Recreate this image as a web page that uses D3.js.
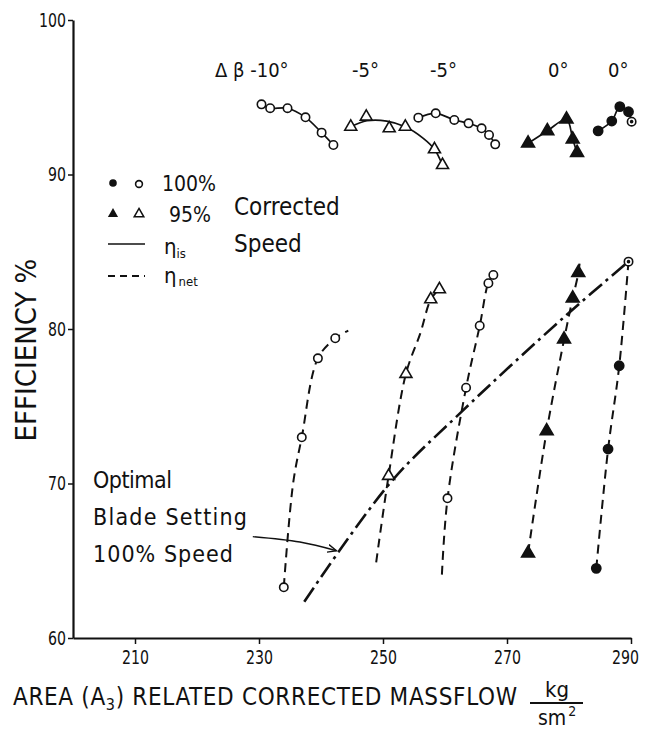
<!DOCTYPE html>
<html>
<head>
<meta charset="utf-8">
<script src="https://cdn.jsdelivr.net/npm/d3@7/dist/d3.min.js"></script>
<style>
  body { margin: 0; background: #fff; }
  text { font-family: "DejaVu Sans Condensed", "DejaVu Sans", sans-serif; fill: #111; }
</style>
</head>
<body>
<svg id="chart" width="646" height="730"></svg>
<script>

/////
//
// Data
//
/////

var xTicks = [210, 230, 250, 270, 290],
    yTicks = [60, 70, 80, 90, 100];

// eta_is curves (top, solid)
var isM10_x = [230.4, 231.8, 234.6, 237.5, 240.1, 242.0],
    isM10_y = [94.54, 94.29, 94.29, 93.70, 92.71, 91.91];

var isM5t_x = [244.8, 247.3, 251.0, 253.6, 258.3, 259.6],
    isM5t_y = [93.09, 93.74, 92.99, 93.09, 91.63, 90.61];
// fitted line through the 95% -5 deg triangles
var isM5tFit_x = [244.8, 247.4, 250.6, 253.6, 256.5, 258.3, 259.6],
    isM5tFit_y = [93.09, 93.48, 93.46, 93.09, 92.34, 91.63, 90.61];

var isM5c_x = [255.7, 258.5, 261.5, 263.8, 265.9, 267.1, 268.1],
    isM5c_y = [93.68, 93.96, 93.53, 93.31, 92.99, 92.56, 91.95];

var is0t_x = [273.4, 276.5, 279.6, 280.6, 281.3],
    is0t_y = [92.02, 92.82, 93.57, 92.28, 91.41];

var is0c_x = [284.7, 286.9, 288.2, 289.6, 290.1],
    is0c_y = [92.82, 93.46, 94.39, 94.06, 93.42];

// eta_net curves (bottom, dashed): markers and line
var netA_x = [234.0, 236.9, 239.5, 242.3],
    netA_y = [63.28, 72.99, 78.10, 79.40],
    netAline_x = [234.0, 235.5, 236.9, 239.5, 242.3, 244.4],
    netAline_y = [63.3, 70.0, 73.0, 78.1, 79.4, 79.9];

var netB_x = [250.9, 253.7, 257.7, 259.1],
    netB_y = [70.49, 77.09, 81.92, 82.57],
    netBline_x = [248.9, 250.9, 253.7, 256.0, 257.7, 259.1],
    netBline_y = [64.9, 70.5, 77.1, 79.7, 81.9, 82.6];

var netC_x = [260.4, 263.4, 265.6, 267.0, 267.8],
    netC_y = [69.04, 76.20, 80.21, 82.96, 83.50],
    netCline_x = [259.5, 260.4, 263.4, 265.6, 267.0, 267.8],
    netCline_y = [64.1, 69.0, 76.2, 80.2, 83.0, 83.5];

var netD_x = [273.4, 276.4, 279.2, 280.6, 281.5],
    netD_y = [65.48, 73.40, 79.33, 81.99, 83.64],
    netDline_x = [273.4, 276.4, 279.2, 280.6, 281.5, 281.8],
    netDline_y = [65.5, 73.4, 79.3, 82.0, 83.6, 84.6];

var netE_x = [284.4, 286.3, 288.1],
    netE_y = [64.51, 72.23, 77.62],
    netEline_x = [284.4, 286.3, 288.1, 289.6],
    netEline_y = [64.5, 72.2, 77.6, 84.4];

// optimal blade setting, 100% speed (dash-dot)
var opt_x = [237.3, 251.1, 262.4, 279.6, 289.6],
    opt_y = [62.35, 70.01, 74.54, 80.91, 84.36];

// points drawn as circle with a dot
var dotCirc_x = [290.1, 289.6],
    dotCirc_y = [93.42, 84.36];

// annotation leader line
var lead_x = [229.0, 236.6, 242.5],
    lead_y = [66.56, 66.21, 65.65];

var blades = ["\u0394 \u03b2 -10\u00b0", "-5\u00b0", "-5\u00b0", "0\u00b0", "0\u00b0"];

/////
//
// Chart
//
/////

var svg = d3.select("#chart");

var x = d3.scaleLinear().domain([200, 290]).range([73, 631]),
    y = d3.scaleLinear().domain([60, 100]).range([638, 20]);

var zip = function(a, b) { return a.map(function(v, i) { return [v, b[i]]; }); };

var line = d3.line()
    .x(function(d) { return x(d[0]); })
    .y(function(d) { return y(d[1]); })
    .curve(d3.curveCatmullRom.alpha(0.5));

// axes
var xAxis = svg.append("g")
    .attr("transform", "translate(0," + y(60) + ")")
    .call(d3.axisBottom(x).tickValues(xTicks).tickSize(6).tickPadding(6).tickSizeOuter(0));
var yAxis = svg.append("g")
    .attr("transform", "translate(" + x(200) + ",0)")
    .call(d3.axisLeft(y).tickValues(yTicks).tickSize(5).tickPadding(2).tickSizeOuter(0));

[xAxis, yAxis].forEach(function(a) {
  a.select(".domain").attr("stroke", "#111").attr("stroke-width", 2.2);
  a.selectAll(".tick line").attr("stroke", "#111").attr("stroke-width", 1.5);
  // the scanned digits are narrow, so squeeze them
  a.selectAll(".tick text")
      .attr("font-size", 20)
      .attr("font-family", "DejaVu Sans Condensed, DejaVu Sans, sans-serif")
      .attr("fill", "#111")
      .attr("lengthAdjust", "spacingAndGlyphs")
      .attr("textLength", function(d) { return String(d).length * 9; });
});
// last x label sits a little left of its tick in the scan
xAxis.selectAll(".tick text").filter(function(d) { return d === 290; }).attr("x", -6);

// solid eta_is lines
var solid = [zip(isM10_x, isM10_y), zip(isM5tFit_x, isM5tFit_y), zip(isM5c_x, isM5c_y),
             zip(is0t_x, is0t_y), zip(is0c_x, is0c_y)];
svg.append("g").selectAll("path")
    .data(solid)
  .enter().append("path")
    .attr("d", line)
    .attr("fill", "none")
    .attr("stroke", "#111")
    .attr("stroke-width", 1.7);

// dashed eta_net lines
var dashed = [zip(netAline_x, netAline_y), zip(netBline_x, netBline_y), zip(netCline_x, netCline_y),
              zip(netDline_x, netDline_y), zip(netEline_x, netEline_y)];
svg.append("g").selectAll("path")
    .data(dashed)
  .enter().append("path")
    .attr("d", line)
    .attr("fill", "none")
    .attr("stroke", "#111")
    .attr("stroke-width", 2)
    .attr("stroke-dasharray", "9,6");

// optimal line, dash-dot
svg.append("path")
    .datum(zip(opt_x, opt_y))
    .attr("d", line)
    .attr("fill", "none")
    .attr("stroke", "#111")
    .attr("stroke-width", 2.6)
    .attr("stroke-dasharray", "17,5,3,5");

// markers
var tri = d3.symbol().type(d3.symbolTriangle);

function circles(xs, ys, filled) {
  svg.append("g").selectAll("circle")
      .data(zip(xs, ys))
    .enter().append("circle")
      .attr("cx", function(d) { return x(d[0]); })
      .attr("cy", function(d) { return y(d[1]); })
      .attr("r", filled ? 4.6 : 4.2)
      .attr("fill", filled ? "#111" : "#fff")
      .attr("stroke", "#111")
      .attr("stroke-width", 1.6);
}

function triangles(xs, ys, filled) {
  svg.append("g").selectAll("path")
      .data(zip(xs, ys))
    .enter().append("path")
      .attr("d", tri.size(filled ? 72 : 62)())
      .attr("transform", function(d) { return "translate(" + x(d[0]) + "," + y(d[1]) + ")"; })
      .attr("fill", filled ? "#111" : "#fff")
      .attr("stroke", "#111")
      .attr("stroke-width", 1.6)
      .attr("stroke-linejoin", "miter");
}

circles(isM10_x, isM10_y, false);
triangles(isM5t_x, isM5t_y, false);
circles(isM5c_x, isM5c_y, false);
triangles(is0t_x, is0t_y, true);
circles(is0c_x.slice(0, 4), is0c_y.slice(0, 4), true);

circles(netA_x, netA_y, false);
triangles(netB_x, netB_y, false);
circles(netC_x, netC_y, false);
triangles(netD_x, netD_y, true);
circles(netE_x, netE_y, true);

// circle with a dot
circles(dotCirc_x, dotCirc_y, false);
svg.append("g").selectAll("circle")
    .data(zip(dotCirc_x, dotCirc_y))
  .enter().append("circle")
    .attr("cx", function(d) { return x(d[0]); })
    .attr("cy", function(d) { return y(d[1]); })
    .attr("r", 1.8)
    .attr("fill", "#111");

// blade setting labels
var bladeX = [215, 352, 430, 548, 608];
svg.append("g").selectAll("text")
    .data(blades)
  .enter().append("text")
    .attr("x", function(d, i) { return bladeX[i]; })
    .attr("y", 77)
    .attr("font-size", 20)
    .text(function(d) { return d; });

// legend
var lg = svg.append("g");
lg.append("circle").attr("cx", 113).attr("cy", 183).attr("r", 3.8).attr("fill", "#111");
lg.append("circle").attr("cx", 139).attr("cy", 184).attr("r", 3.4)
    .attr("fill", "#fff").attr("stroke", "#111").attr("stroke-width", 1.6);
lg.append("path").attr("d", tri.size(45)()).attr("transform", "translate(113,214)").attr("fill", "#111");
lg.append("path").attr("d", tri.size(40)()).attr("transform", "translate(139,214)")
    .attr("fill", "#fff").attr("stroke", "#111").attr("stroke-width", 1.5);
lg.append("line").attr("x1", 108).attr("x2", 145).attr("y1", 244).attr("y2", 244)
    .attr("stroke", "#111").attr("stroke-width", 1.5);
lg.append("line").attr("x1", 108).attr("x2", 145).attr("y1", 276).attr("y2", 276)
    .attr("stroke", "#111").attr("stroke-width", 1.8).attr("stroke-dasharray", "7,5");

lg.append("text").attr("x", 162).attr("y", 191).attr("font-size", 21).text("100%");
lg.append("text").attr("x", 169).attr("y", 222).attr("font-size", 21).text("95%");
lg.append("text").attr("x", 234).attr("y", 215).attr("font-size", 24).text("Corrected");
lg.append("text").attr("x", 234).attr("y", 252).attr("font-size", 24).text("Speed");

var eis = lg.append("text").attr("x", 164).attr("y", 254).attr("font-size", 22);
eis.append("tspan").text("\u03b7");
eis.append("tspan").attr("font-size", 13).attr("dy", 4).text("is");
var enet = lg.append("text").attr("x", 164).attr("y", 283).attr("font-size", 22);
enet.append("tspan").text("\u03b7");
enet.append("tspan").attr("font-size", 13).attr("dx", 2).attr("dy", 3).text("net");

// annotation
svg.append("defs").append("marker")
    .attr("id", "arrow")
    .attr("viewBox", "0 0 10 10")
    .attr("refX", 9).attr("refY", 5)
    .attr("markerWidth", 7).attr("markerHeight", 7)
    .attr("orient", "auto")
  .append("path")
    .attr("d", "M0,1 L9,5 L0,9")
    .attr("fill", "none")
    .attr("stroke", "#111")
    .attr("stroke-width", 1.4);

svg.append("path")
    .datum(zip(lead_x, lead_y))
    .attr("d", line)
    .attr("fill", "none")
    .attr("stroke", "#111")
    .attr("stroke-width", 1.4)
    .attr("marker-end", "url(#arrow)");

var ann = ["Optimal", "Blade Setting", "100% Speed"],
    annY = [488, 525, 562],
    annW = [79, 154, 140];
svg.append("g").selectAll("text")
    .data(ann)
  .enter().append("text")
    .attr("x", 93)
    .attr("y", function(d, i) { return annY[i]; })
    .attr("font-size", 23)
    .attr("textLength", function(d, i) { return annW[i]; })
    .text(function(d) { return d; });

// axis titles
svg.append("text")
    .attr("transform", "translate(36,350) rotate(-90)")
    .attr("text-anchor", "middle")
    .attr("font-size", 29)
    .text("EFFICIENCY %");

var xt = svg.append("text").attr("x", 13).attr("y", 705).attr("font-size", 24)
    .attr("textLength", 504);
xt.append("tspan").text("AREA (A");
xt.append("tspan").attr("font-size", 16).attr("dy", 5).text("3");
xt.append("tspan").attr("dy", -5).text(") RELATED CORRECTED MASSFLOW");

svg.append("text").attr("x", 557).attr("y", 697).attr("text-anchor", "middle")
    .attr("font-size", 22).text("kg");
svg.append("line").attr("x1", 530).attr("x2", 583).attr("y1", 703).attr("y2", 703)
    .attr("stroke", "#111").attr("stroke-width", 2);
var sm = svg.append("text").attr("x", 538).attr("y", 725).attr("font-size", 21);
sm.append("tspan").text("sm");
sm.append("tspan").attr("font-size", 14).attr("dx", 2).attr("dy", -9).text("2");

</script>
</body>
</html>
